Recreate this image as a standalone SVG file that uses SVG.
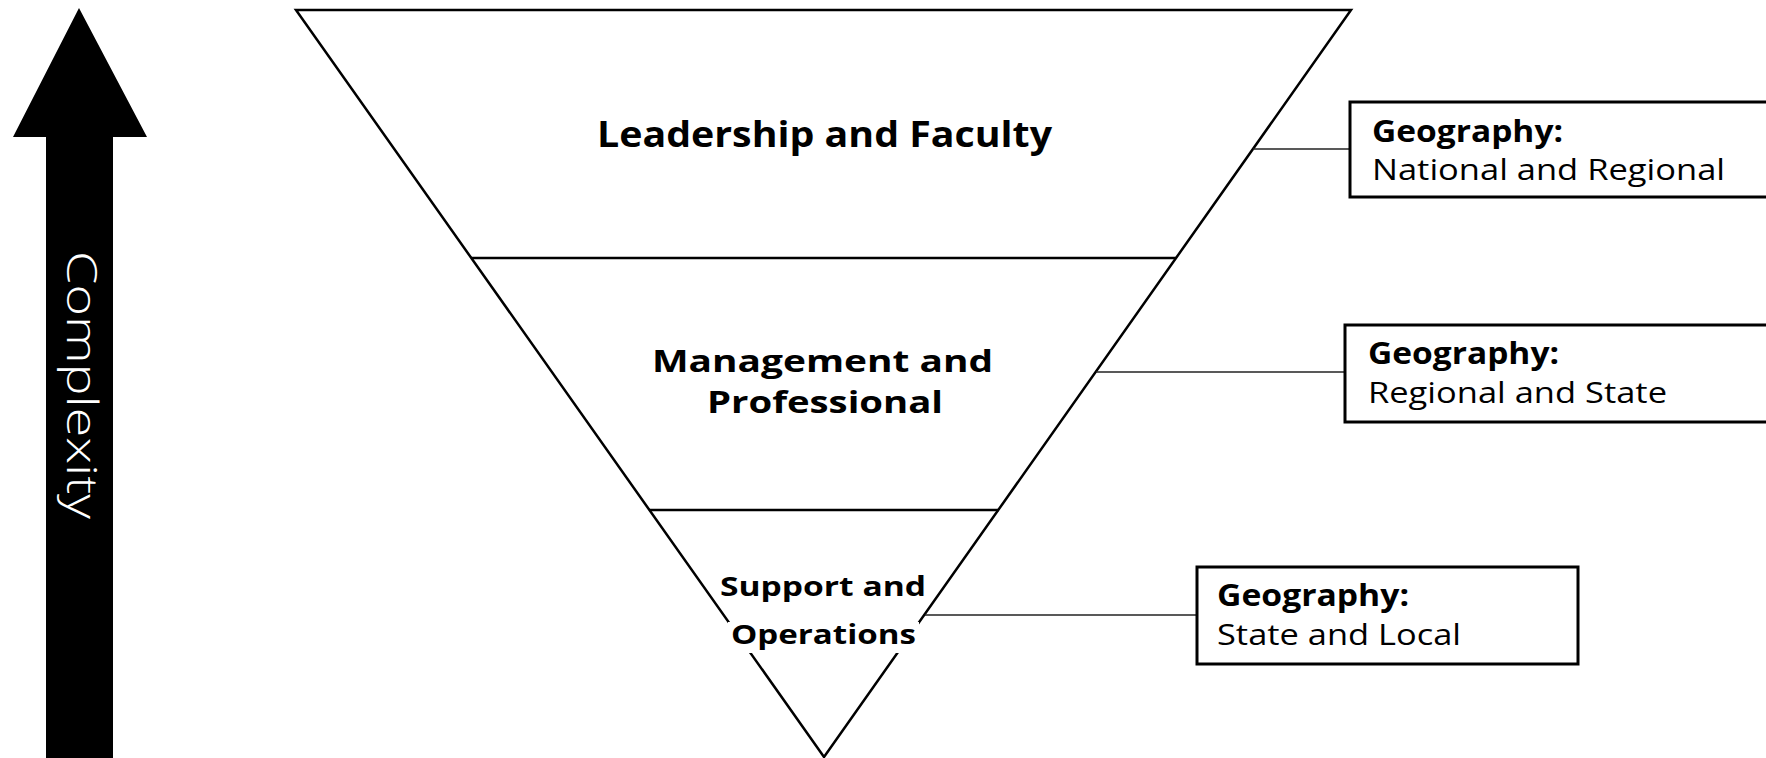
<svg xmlns="http://www.w3.org/2000/svg" width="1766" height="758" viewBox="0 0 1766 758">
  <style>
    .edge { fill: #ffffff; stroke: #000000; stroke-width: 2.5; stroke-linejoin: miter; }
    .tier { stroke: #000000; stroke-width: 2.5; }
    .link { stroke: #222222; stroke-width: 1.5; }
    .box { fill: #ffffff; stroke: #000000; stroke-width: 3; }
    .tierLabel { font-family: "Open Sans", "Liberation Sans", sans-serif; font-weight: 700; fill: #000000; text-anchor: middle; }
    .geoHead { font-family: "Open Sans", "Liberation Sans", sans-serif; font-weight: 700; font-size: 30px; fill: #000000; }
    .geoBody { font-family: "Open Sans", "Liberation Sans", sans-serif; font-weight: 400; font-size: 30px; fill: #000000; }
    .axisLabel { font-family: "Open Sans", "Liberation Sans", sans-serif; font-weight: 300; font-size: 42px; fill: #ffffff; text-anchor: middle; }
  </style>
  <rect width="1766" height="758" fill="#ffffff"/>

  <!-- upward axis arrow -->
  <g id="complexity-axis">
    <polygon points="79,8 147,137 113,137 113,770 46,770 46,137 13,137" fill="#000000"/>
    <text class="axisLabel" transform="translate(67,385) rotate(90)" textLength="268" lengthAdjust="spacingAndGlyphs">Complexity</text>
  </g>

  <!-- inverted pyramid -->
  <g id="pyramid">
    <polygon class="edge" points="296,10 1351,10 824,757"/>
    <line class="tier" x1="471" y1="258" x2="1176" y2="258"/>
    <line class="tier" x1="649" y1="510" x2="999" y2="510"/>
  </g>

  <g id="tier-leadership">
    <text class="tierLabel" x="824.5" y="147" font-size="35" textLength="455" lengthAdjust="spacingAndGlyphs">Leadership and Faculty</text>
  </g>
  <g id="tier-management">
    <text class="tierLabel" x="822.5" y="372" font-size="31" textLength="341" lengthAdjust="spacingAndGlyphs">Management and</text>
    <text class="tierLabel" x="825" y="413" font-size="31" textLength="236" lengthAdjust="spacingAndGlyphs">Professional</text>
  </g>
  <g id="tier-support">
    <text class="tierLabel" x="823" y="596" font-size="26" textLength="206" lengthAdjust="spacingAndGlyphs">Support and</text>
    <rect x="728" y="622" width="191" height="31" fill="#ffffff"/>
    <text class="tierLabel" x="823.5" y="644" font-size="26" textLength="185" lengthAdjust="spacingAndGlyphs">Operations</text>
  </g>

  <!-- leader lines from pyramid edge to geography boxes -->
  <g id="connectors">
    <line class="link" x1="1253" y1="149" x2="1350" y2="149"/>
    <line class="link" x1="1096" y1="372" x2="1345" y2="372"/>
    <line class="link" x1="925" y1="615" x2="1197" y2="615"/>
  </g>

  <g id="geo-national">
    <rect class="box" x="1350" y="102" width="440" height="95"/>
    <text class="geoHead" x="1372" y="142" textLength="191" lengthAdjust="spacingAndGlyphs">Geography:</text>
    <text class="geoBody" x="1372" y="180" textLength="353" lengthAdjust="spacingAndGlyphs">National and Regional</text>
  </g>
  <g id="geo-regional">
    <rect class="box" x="1345" y="325" width="440" height="97"/>
    <text class="geoHead" x="1368" y="364" textLength="191" lengthAdjust="spacingAndGlyphs">Geography:</text>
    <text class="geoBody" x="1368" y="403" textLength="299" lengthAdjust="spacingAndGlyphs">Regional and State</text>
  </g>
  <g id="geo-state">
    <rect class="box" x="1197" y="567" width="381" height="97"/>
    <text class="geoHead" x="1217" y="606" textLength="192" lengthAdjust="spacingAndGlyphs">Geography:</text>
    <text class="geoBody" x="1217" y="645" textLength="244" lengthAdjust="spacingAndGlyphs">State and Local</text>
  </g>
</svg>
